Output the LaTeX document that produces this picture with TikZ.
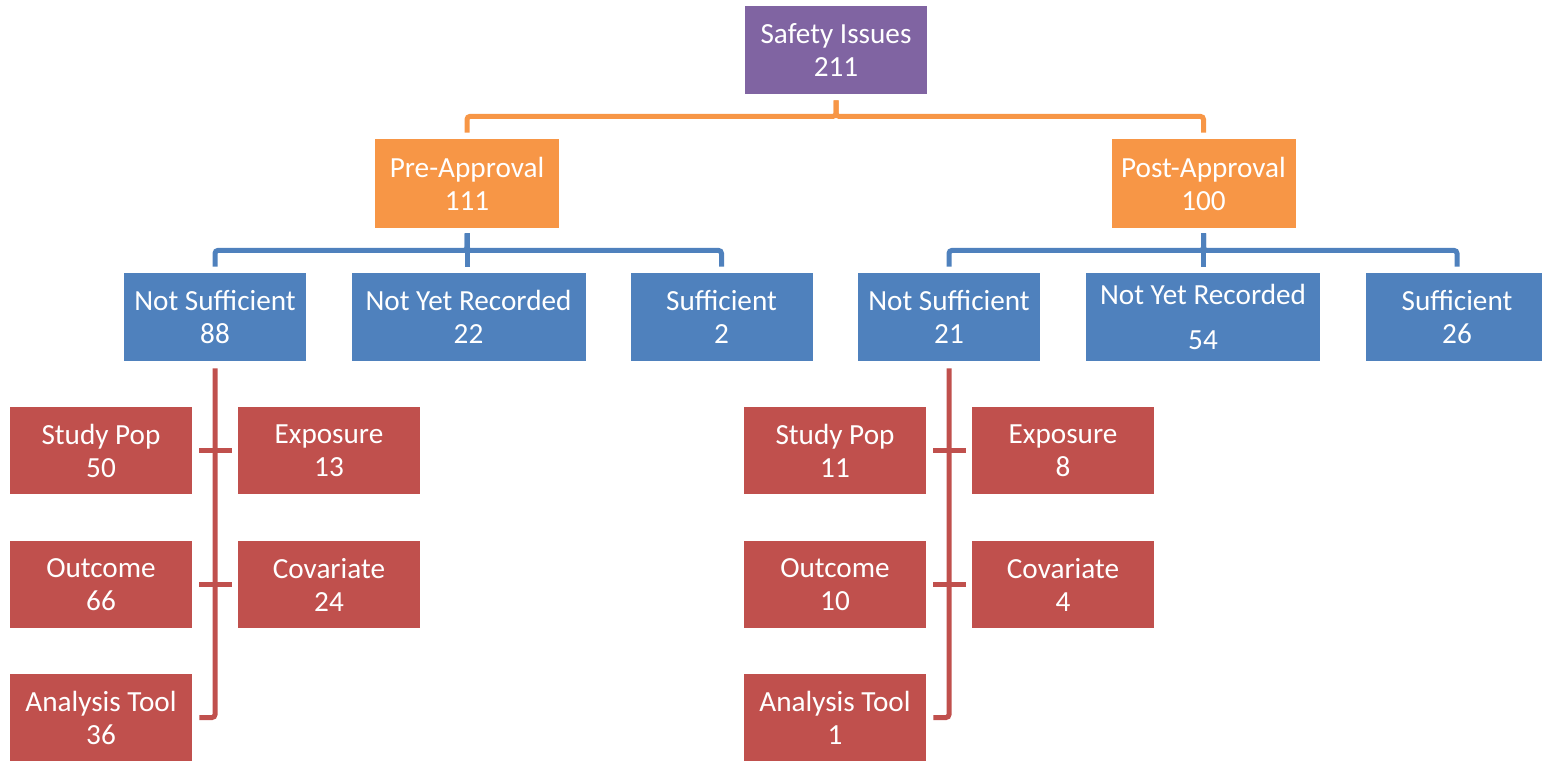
\documentclass[tikz,border=0pt]{standalone}
\usepackage{fontspec}
\setmainfont{Carlito}
\definecolor{cpurple}{HTML}{8064A2}
\definecolor{corange}{HTML}{F79646}
\definecolor{cblue}{HTML}{4F81BD}
\definecolor{cred}{HTML}{C0504D}
\begin{document}
\begin{tikzpicture}[x=0.5pt,y=-0.5pt,
  box/.style={inner sep=0pt, align=center, text=white,
    font=\fontsize{14.6pt}{16.5pt}\selectfont,
    minimum width=91pt, minimum height=44pt},
  topbox/.style={box, fill=cpurple},
  midbox/.style={box, fill=corange, minimum width=92pt, minimum height=44.5pt},
  leafbox/.style={box, fill=cblue},
  widebox/.style={leafbox, minimum width=117pt},
  subbox/.style={box, fill=cred, minimum height=43.5pt},
  link/.style={line width=2.5pt, rounded corners=1.5pt, line cap=butt},
  olink/.style={link, draw=corange, shorten <=3pt, shorten >=3pt},
  blink/.style={link, draw=cblue, shorten <=2.5pt, shorten >=3pt},
  rlink/.style={link, draw=cred},
]
\useasboundingbox (0,0) rectangle (1542,761);

% root and approval phases
\node[topbox] (safety) at (836,50) {Safety Issues\\211};
\node[midbox] (pre)  at (467,183.5)  {Pre-Approval\\111};
\node[midbox] (post) at (1203.5,183.5) {Post-Approval\\100};

% evidence status
\node[leafbox] (ns1)  at (215,317)    {Not Sufficient\\88};
\node[widebox] (nyr1) at (468.5,317)  {Not Yet Recorded\\22};
\node[leafbox] (suf1) at (721.5,317)  {Sufficient\\2};
\node[leafbox] (ns2)  at (949,317)    {Not Sufficient\\21};
\node[widebox] (nyr2) at (1203,317)   {Not Yet Recorded\\[6pt]54};
\node[leafbox] (suf2) at (1457,317)   {Sufficient\\26};

% reasons, pre-approval
\node[subbox] (sp1) at (101,450.5) {Study Pop\\50};
\node[subbox] (ex1) at (329,450.5) {Exposure\\13};
\node[subbox] (oc1) at (101,584.5) {Outcome\\66};
\node[subbox] (cv1) at (329,584.5) {Covariate\\24};
\node[subbox] (at1) at (101,717.5) {Analysis Tool\\36};

% reasons, post-approval
\node[subbox] (sp2) at (835,450.5) {Study Pop\\11};
\node[subbox] (ex2) at (1063,450.5) {Exposure\\8};
\node[subbox] (oc2) at (835,584.5) {Outcome\\10};
\node[subbox] (cv2) at (1063,584.5) {Covariate\\4};
\node[subbox] (at2) at (835,717.5) {Analysis Tool\\1};

% root to phases
\draw[olink] (safety.south) -- ++(0,22) -| (pre.north);
\draw[olink] (safety.south) -- ++(0,22) -| (post.north);

% phases to status
\draw[blink] (pre.south) -- ++(0,22) -| (ns1.north);
\draw[blink] (pre.south) -- ++(0,22) -| (suf1.north);
\draw[blink] (pre.south) -- (pre.south |- nyr1.north);
\draw[blink] (post.south) -- ++(0,22) -| (ns2.north);
\draw[blink] (post.south) -- ++(0,22) -| (suf2.north);
\draw[blink] (post.south) -- (post.south |- nyr2.north);

% status to reasons
\draw[rlink, shorten <=3.5pt, shorten >=3.5pt] (ns1.south) |- (at1.east);
\draw[rlink, shorten <=3.5pt, shorten >=3pt] (sp1.east) -- (ex1.west);
\draw[rlink, shorten <=3.5pt, shorten >=3pt] (oc1.east) -- (cv1.west);
\draw[rlink, shorten <=3.5pt, shorten >=3.5pt] (ns2.south) |- (at2.east);
\draw[rlink, shorten <=3.5pt, shorten >=3pt] (sp2.east) -- (ex2.west);
\draw[rlink, shorten <=3.5pt, shorten >=3pt] (oc2.east) -- (cv2.west);
\end{tikzpicture}
\end{document}
